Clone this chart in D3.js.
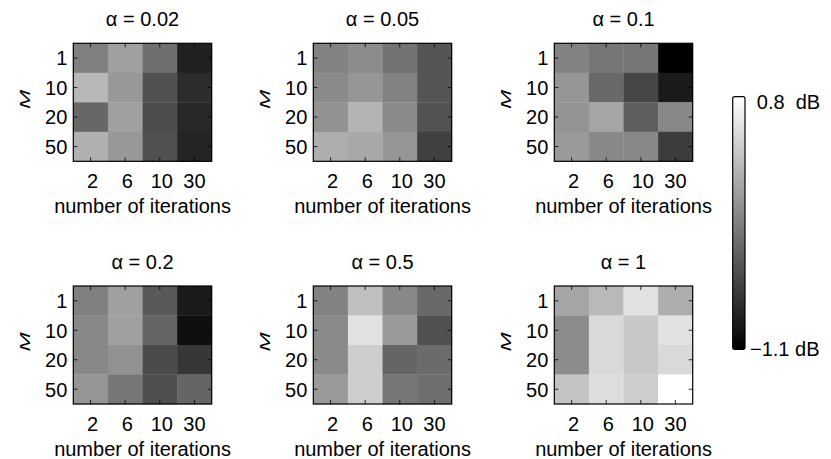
<!DOCTYPE html>
<html>
<head>
<meta charset="utf-8">
<script src="https://cdn.jsdelivr.net/npm/d3@7"></script>
<style>
  body { margin: 0; background: #fff; }
  svg { display: block; font-family: "Liberation Sans", Arial, Helvetica, sans-serif; }
  svg text { fill: #000; }
</style>
</head>
<body>
<div id="chart"></div>
<script>
// data (gain in dB), rows = M, columns = number of iterations
var iterations = [2, 6, 10, 30]
var mValues = [1, 10, 20, 50]
var alphaLabels = ['0.02', '0.05', '0.1', '0.2', '0.5', '1']

var gainAlpha002 = [
  [-0.15, 0.09, -0.27, -0.86],
  [0.27, 0.03, -0.50, -0.77],
  [-0.33, 0.09, -0.53, -0.80],
  [0.21, 0.03, -0.50, -0.83]
]
var gainAlpha005 = [
  [-0.13, -0.06, -0.24, -0.47],
  [-0.07, 0.02, -0.13, -0.47],
  [-0.02, 0.24, -0.07, -0.49],
  [0.20, 0.15, 0.02, -0.62]
]
var gainAlpha01 = [
  [-0.13, -0.22, -0.21, -1.10],
  [0.02, -0.32, -0.58, -0.91],
  [0.00, 0.13, -0.39, -0.09],
  [0.05, -0.09, -0.09, -0.65]
]
var gainAlpha02 = [
  [-0.15, 0.09, -0.44, -0.91],
  [-0.09, 0.09, -0.35, -0.99],
  [-0.09, -0.02, -0.54, -0.69],
  [0.02, -0.22, -0.52, -0.35]
]
var gainAlpha05 = [
  [-0.13, 0.32, -0.09, -0.32],
  [-0.07, 0.58, 0.05, -0.50],
  [-0.07, 0.43, -0.35, -0.30],
  [0.05, 0.43, -0.22, -0.28]
]
var gainAlpha1 = [
  [0.13, 0.28, 0.58, 0.20],
  [-0.06, 0.52, 0.39, 0.58],
  [-0.06, 0.52, 0.39, 0.52],
  [0.35, 0.55, 0.43, 0.80]
]
var colorRange = [-1.1, 0.8]

var panels = [gainAlpha002, gainAlpha005, gainAlpha01, gainAlpha02, gainAlpha05, gainAlpha1]

// layout
var width = 831
var height = 459
var colX = [73.3, 313.3, 554.3]
var rowY = [43.3, 286]
var boxW = 138.4
var boxH = 118
var fontSize = 20

var svg = d3.select('#chart')
  .append('svg')
  .attr('width', width)
  .attr('height', height)

var colorScale = d3.scaleLinear()
  .domain(colorRange)
  .range(['#000000', '#ffffff'])
  .clamp(true)

var xScale = d3.scaleBand().domain(iterations).range([0, boxW])
var yScale = d3.scaleBand().domain(mValues).range([0, boxH])

panels.forEach(function(values, i) {
  var g = svg.append('g')
    .attr('transform', 'translate(' + colX[i % 3] + ',' + rowY[Math.floor(i / 3)] + ')')

  var cells = []
  values.forEach(function(row, r) {
    row.forEach(function(v, c) {
      cells.push({ m: mValues[r], it: iterations[c], v: v })
    })
  })

  g.selectAll('.cell')
    .data(cells)
    .enter()
    .append('rect')
    .attr('class', 'cell')
    .attr('x', function(d) { return xScale(d.it) })
    .attr('y', function(d) { return yScale(d.m) })
    .attr('width', xScale.bandwidth() + 0.3)
    .attr('height', yScale.bandwidth() + 0.3)
    .attr('fill', function(d) { return colorScale(d.v) })

  // axes with inward ticks, MATLAB style
  var xAxis = g.append('g')
    .attr('class', 'axis')
    .attr('transform', 'translate(0,' + boxH + ')')
    .call(d3.axisBottom(xScale).tickSize(-4).tickPadding(12.3))
  var yAxis = g.append('g')
    .attr('class', 'axis')
    .call(d3.axisLeft(yScale).tickSize(-4).tickPadding(6))
  g.append('g')
    .attr('class', 'axis')
    .call(d3.axisTop(xScale).tickSize(-4).tickFormat(''))
  g.append('g')
    .attr('class', 'axis')
    .attr('transform', 'translate(' + boxW + ',0)')
    .call(d3.axisRight(yScale).tickSize(-4).tickFormat(''))

  g.selectAll('.axis .domain').remove()
  g.selectAll('.axis line').attr('stroke', '#000').attr('stroke-width', 0.8)
  g.selectAll('.axis text')
    .attr('font-size', fontSize)
    .attr('font-family', '"Liberation Sans", Arial, sans-serif')
  yAxis.selectAll('text').attr('dy', '0.37em')
  xAxis.selectAll('text').attr('dx', function(d) { return d === 30 ? 0 : 2 })

  g.append('rect')
    .attr('width', boxW)
    .attr('height', boxH)
    .attr('fill', 'none')
    .attr('stroke', '#000')
    .attr('stroke-width', 1.2)

  g.append('text')
    .attr('x', boxW / 2)
    .attr('y', -17.3)
    .attr('text-anchor', 'middle')
    .attr('font-size', fontSize)
    .text('\u03b1 = ' + alphaLabels[i])

  g.append('text')
    .attr('x', boxW / 2)
    .attr('y', boxH + 52)
    .attr('text-anchor', 'middle')
    .attr('font-size', fontSize)
    .text('number of iterations')

  g.append('text')
    .attr('transform', 'translate(-43.8,' + (boxH / 2 - 3) + ') rotate(-90) scale(1,0.62)')
    .attr('text-anchor', 'middle')
    .attr('font-size', 23)
    .attr('font-style', 'italic')
    .text('M')
})

// colorbar
var barX = 732.7
var barW = 12.3
var barScale = d3.scaleLinear().domain(colorRange).range([349.3, 96.7])

var grad = svg.append('defs')
  .append('linearGradient')
  .attr('id', 'graybar')
  .attr('x1', 0).attr('y1', 1)
  .attr('x2', 0).attr('y2', 0)
grad.selectAll('stop')
  .data(colorRange)
  .enter()
  .append('stop')
  .attr('offset', function(d, i) { return i })
  .attr('stop-color', function(d) { return colorScale(d) })

svg.append('rect')
  .attr('x', barX)
  .attr('y', barScale(colorRange[1]))
  .attr('width', barW)
  .attr('height', barScale(colorRange[0]) - barScale(colorRange[1]))
  .attr('rx', 2)
  .attr('fill', 'url(#graybar)')
  .attr('stroke', '#000')
  .attr('stroke-width', 1.2)

svg.append('text')
  .attr('x', barX + barW + 11.8)
  .attr('y', barScale(colorRange[1]) + 12)
  .attr('font-size', fontSize)
  .style('white-space', 'pre')
  .text('0.8  dB')

svg.append('text')
  .attr('x', barX + barW + 5)
  .attr('y', barScale(colorRange[0]) + 6.5)
  .attr('font-size', fontSize)
  .style('white-space', 'pre')
  .text('\u22121.1 dB')
</script>
</body>
</html>
